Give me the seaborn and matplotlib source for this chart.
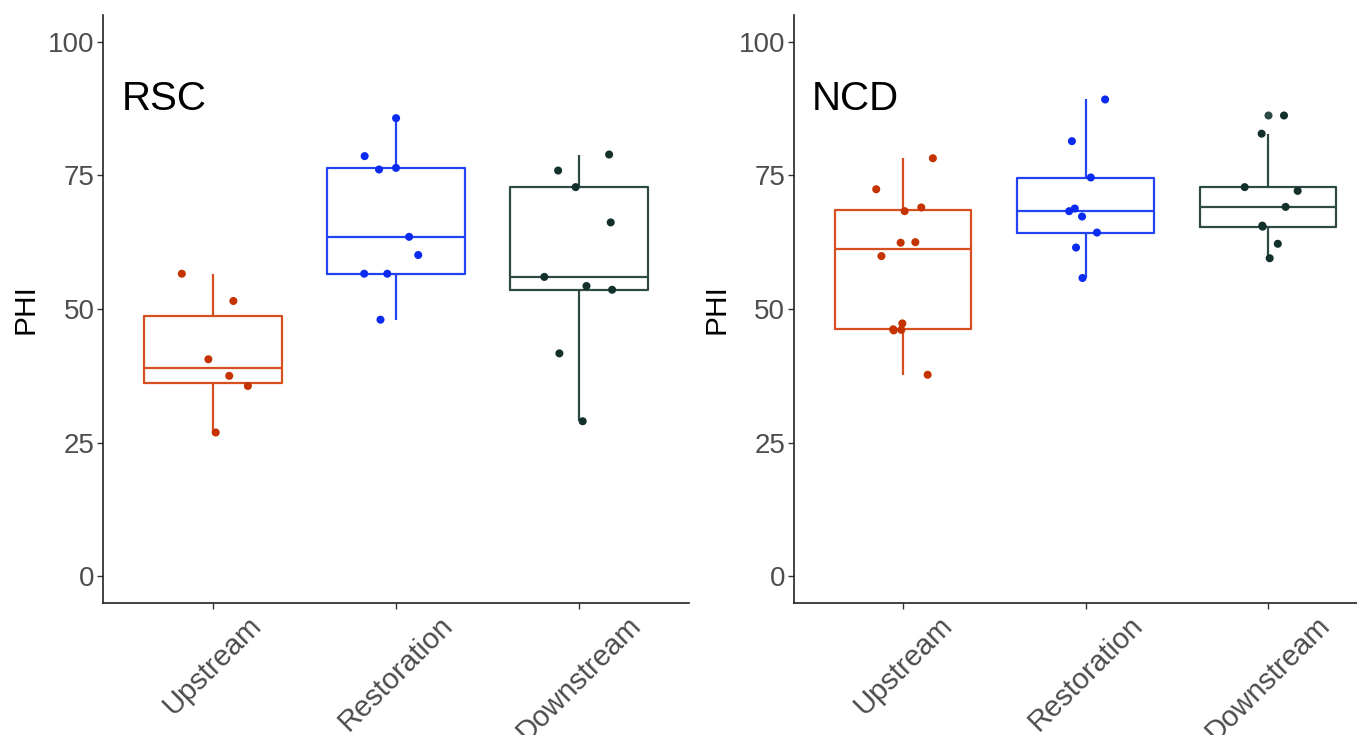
import numpy as np
import pandas as pd
import matplotlib
matplotlib.use("Agg")
import matplotlib.pyplot as plt
import seaborn as sns

# Site order along the x axis
sites = ["Upstream", "Restoration", "Downstream"]

# PHI scores per site, RSC stream
rsc_upstream = [56.6, 51.5, 40.6, 37.5, 35.6, 26.9]
rsc_restoration = [85.7, 78.6, 76.1, 76.4, 63.5, 60.1, 56.6, 56.6, 48.0]
rsc_downstream = [78.9, 75.9, 72.8, 66.2, 56.0, 54.3, 53.6, 41.7, 29.0]

# PHI scores per site, NCD stream
ncd_upstream = [78.2, 72.4, 68.3, 69.0, 62.5, 62.4, 59.9, 47.3, 46.0, 46.1, 46.2, 37.7]
ncd_restoration = [89.2, 81.4, 74.6, 68.3, 67.3, 68.8, 64.3, 61.5, 55.8]
ncd_downstream = [86.2, 82.8, 72.1, 72.8, 69.1, 65.6, 65.4, 62.2, 59.5]

panel_names = ["RSC", "NCD"]
y_ticks = [0, 25, 50, 75, 100]

box_colors = {"Upstream": "#D6501F", "Restoration": "#2342F2", "Downstream": "#2E4A45"}
point_colors = {"Upstream": "#C43300", "Restoration": "#0B2BF0", "Downstream": "#13302A"}


def site_frame(up, rest, down):
    return pd.DataFrame({
        "site": ["Upstream"] * len(up) + ["Restoration"] * len(rest) + ["Downstream"] * len(down),
        "PHI": list(up) + list(rest) + list(down),
    })


frames = [
    site_frame(rsc_upstream, rsc_restoration, rsc_downstream),
    site_frame(ncd_upstream, ncd_restoration, ncd_downstream),
]

sns.set_theme(style="ticks")
plt.rcParams["font.family"] = ["Liberation Sans", "DejaVu Sans"]

W, H = 1357, 735
fig = plt.figure(figsize=(W / 100, H / 100), dpi=100)
fig.patch.set_facecolor("white")

# panel extents in pixels: (left, width); the right panel runs past the figure edge
panel_px = [(103, 586), (793.5, 584)]
bottom_px, top_px = 603, 15

np.random.seed(7)
for (left, width), name, df in zip(panel_px, panel_names, frames):
    ax = fig.add_axes([left / W, 1 - bottom_px / H, width / W, (bottom_px - top_px) / H])
    sns.boxplot(
        data=df, x="site", y="PHI", hue="site", order=sites, hue_order=sites,
        palette=box_colors, fill=False, width=0.75, linewidth=1.6,
        showcaps=False, legend=False, ax=ax,
        flierprops={"marker": "o", "markersize": 5.8},
    )
    # solid outlier dots
    for ln in ax.lines:
        if ln.get_marker() == "o":
            ln.set_markerfacecolor(ln.get_markeredgecolor())
            ln.set_markeredgewidth(0)
    sns.stripplot(
        data=df, x="site", y="PHI", hue="site", order=sites, hue_order=sites,
        palette=point_colors, jitter=0.2, size=5.8, linewidth=0,
        legend=False, ax=ax, zorder=3,
    )
    ax.set_xlim(-0.6, 2.6)
    ax.set_ylim(-5, 105)
    ax.set_yticks(y_ticks)
    ax.set_xlabel("")
    ax.set_ylabel("PHI", fontsize=21.5, color="black", labelpad=6)
    for side in ["top", "right"]:
        ax.spines[side].set_visible(False)
    for side in ["left", "bottom"]:
        ax.spines[side].set_linewidth(1.2)
        ax.spines[side].set_color("#222222")
    ax.tick_params(axis="both", length=4, width=1.0, color="#333333",
                   labelcolor="#4D4D4D", labelsize=20, pad=2)
    ax.tick_params(axis="x", labelrotation=45, labelsize=21)
    for lbl in ax.get_xticklabels():
        lbl.set_ha("center")
    ax.text(-0.5, 87.3, name, fontsize=29, color="black", ha="left", va="baseline")
    ax.set_facecolor("white")

fig.savefig("out.png", dpi=100, facecolor="white")
